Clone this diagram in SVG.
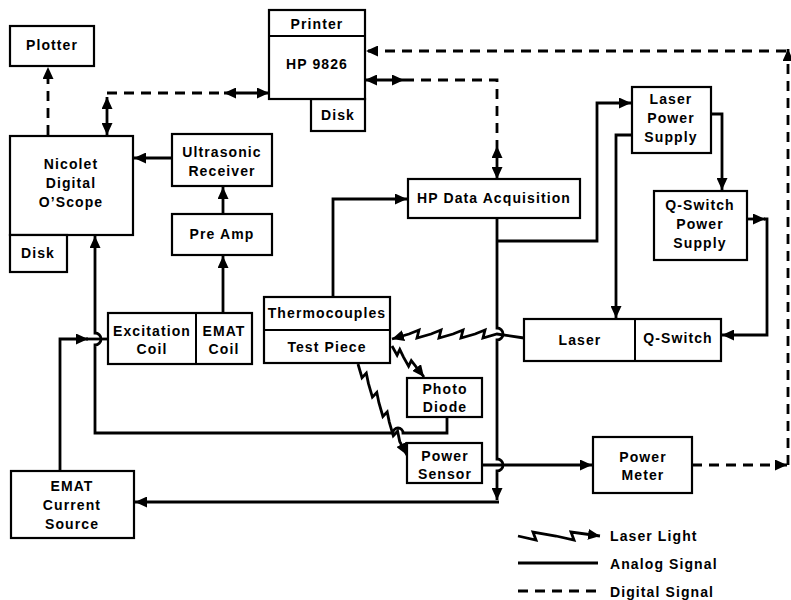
<svg xmlns="http://www.w3.org/2000/svg" width="791" height="600" viewBox="0 0 791 600">
<defs>
<style>
.box{fill:#fff;stroke:#000;stroke-width:2.2}
.div{stroke:#000;stroke-width:2}
.t{font-family:"Liberation Sans",Arial,Helvetica,sans-serif;font-weight:bold;font-size:14px;letter-spacing:1.1px;text-anchor:middle;fill:#000}
.tl{font-family:"Liberation Sans",Arial,Helvetica,sans-serif;font-weight:bold;font-size:14px;letter-spacing:1.1px;text-anchor:start;fill:#000}
.w{fill:none;stroke:#000;stroke-width:2.8;stroke-linejoin:miter}
.d{stroke-dasharray:10 7}
.a{marker-end:url(#ah)}
.aa{marker-start:url(#ah);marker-end:url(#ah)}
</style>
<marker id="ah" markerUnits="userSpaceOnUse" markerWidth="13" markerHeight="11" refX="12" refY="5.5" orient="auto-start-reverse" viewBox="0 0 13 11">
<path d="M0,0 L12,5.5 L0,11 z" fill="#000"/>
</marker>
</defs>
<rect width="791" height="600" fill="#fff"/>

<g id="connectors">
<!-- digital -->
<path class="w d a" d="M48,135 V67"/>
<path class="w d" d="M107,93 H224"/>
<path class="w aa" d="M107,97 V135"/>
<path class="w aa" d="M224,93 H269"/>
<path class="w aa" d="M365,80 H404"/>
<path class="w d" d="M404,80 H497 V146"/>
<path class="w aa" d="M497,146 V179"/>
<path class="w d a" d="M692,465 H787"/>
<path class="w d a" d="M788,465 V49"/>
<path class="w d a" d="M786,51 H366"/>
<!-- analog -->
<path class="w a" d="M172,158 H134"/>
<path class="w a" d="M223,213 V187"/>
<path class="w a" d="M223,312 V256"/>
<path class="w a" d="M60,471 V339 H88"/>
<path class="w" d="M86,339 H108"/>
<path class="w a" d="M447,418 V433 H403 A5,5 0 0 0 393,433 H95 V345 A6,6 0 0 0 95,333 V236"/>
<path class="w a" d="M333,297 V199 H407"/>
<path class="w a" d="M497,218 V328 A6,6 0 0 1 497,340 V459 A6,6 0 0 1 497,471 V500"/>
<path class="w a" d="M497,241 H597 V103 H631"/>
<path class="w a" d="M499,502 H135"/>
<path class="w a" d="M632,135 H616 V318"/>
<path class="w a" d="M711,114 H722 V190"/>
<path class="w a" d="M747,219 H765"/>
<path class="w a" d="M764,219 H767 V335 H722"/>
<path class="w a" d="M482,465 H592"/>
<!-- laser light -->
<path class="w a" d="M524,338 L497,334 L483,338 L485,330 L475,334 L461,338 L463,330 L453,334 L439,338 L441,330 L431,334 L417,338 L419,330 L409,334 L392,339"/>
<path class="w a" d="M392,346 L397.1,355.1 L399.8,349.4 L403.5,357.1 L408.6,366.2 L411.3,360.6 L424,377"/>
<path class="w a" d="M358,364 L362,377.7 L366.3,373.1 L368.4,383.4 L372.4,397.1 L376.8,392.5 L378.9,402.7 L382.9,416.5 L387.2,411.9 L389.3,422.1 L393.3,435.8 L397.6,431.2 L399.7,441.4 L407,455"/>
</g>

<g id="plotter"><rect class="box" x="10" y="26" width="84" height="40"/><text class="t" x="52" y="50">Plotter</text></g>
<g id="hp9826">
<rect class="box" x="311" y="99" width="54" height="32"/>
<rect class="box" x="269" y="10" width="96" height="89"/>
<line class="div" x1="269" y1="36" x2="365" y2="36"/>
<text class="t" x="317" y="29">Printer</text>
<text class="t" x="317" y="69">HP 9826</text>
<text class="t" x="338" y="120">Disk</text>
</g>
<g id="nicolet">
<rect class="box" x="10" y="136" width="123" height="99"/>
<rect class="box" x="10" y="235" width="57" height="37"/>
<text class="t" x="71" y="169">Nicolet</text>
<text class="t" x="71" y="188">Digital</text>
<text class="t" x="71" y="207">O’Scope</text>
<text class="t" x="38" y="258">Disk</text>
</g>
<g id="ultrasonic"><rect class="box" x="172" y="134" width="100" height="52"/><text class="t" x="222" y="157">Ultrasonic</text><text class="t" x="222" y="176">Receiver</text></g>
<g id="preamp"><rect class="box" x="172" y="214" width="100" height="41"/><text class="t" x="222" y="239">Pre Amp</text></g>
<g id="coils">
<rect class="box" x="108" y="313" width="144" height="51"/>
<line class="div" x1="196" y1="313" x2="196" y2="364"/>
<text class="t" x="152" y="336">Excitation</text><text class="t" x="152" y="354">Coil</text>
<text class="t" x="224" y="336">EMAT</text><text class="t" x="224" y="354">Coil</text>
</g>
<g id="testpiece">
<rect class="box" x="264" y="297" width="126" height="66"/>
<line class="div" x1="264" y1="330" x2="390" y2="330"/>
<text class="t" x="327" y="318">Thermocouples</text>
<text class="t" x="327" y="352">Test Piece</text>
</g>
<g id="hpdaq"><rect class="box" x="408" y="179" width="172" height="39"/><text class="t" x="494" y="203">HP Data Acquisition</text></g>
<g id="laserps"><rect class="box" x="632" y="87" width="79" height="66"/><text class="t" x="671" y="104">Laser</text><text class="t" x="671" y="123">Power</text><text class="t" x="671" y="142">Supply</text></g>
<g id="qswitchps"><rect class="box" x="654" y="191" width="93" height="69"/><text class="t" x="700" y="210">Q-Switch</text><text class="t" x="700" y="229">Power</text><text class="t" x="700" y="248">Supply</text></g>
<g id="laser">
<rect class="box" x="524" y="319" width="197" height="42"/>
<line class="div" x1="635" y1="319" x2="635" y2="361"/>
<text class="t" x="580" y="345">Laser</text>
<text class="t" x="678" y="343">Q-Switch</text>
</g>
<g id="photodiode"><rect class="box" x="407" y="378" width="75" height="39"/><text class="t" x="445" y="394">Photo</text><text class="t" x="445" y="412">Diode</text></g>
<g id="powersensor"><rect class="box" x="407" y="443" width="75" height="40"/><text class="t" x="445" y="461">Power</text><text class="t" x="445" y="479">Sensor</text></g>
<g id="powermeter"><rect class="box" x="593" y="437" width="99" height="56"/><text class="t" x="643" y="462">Power</text><text class="t" x="643" y="480">Meter</text></g>
<g id="ematsource"><rect class="box" x="11" y="471" width="123" height="67"/><text class="t" x="72" y="491">EMAT</text><text class="t" x="72" y="510">Current</text><text class="t" x="72" y="529">Source</text></g>

<g id="legend">
<path class="w a" d="M518,536 L536,540 L533,532 L556,536 L574,540 L571,532 L600,536"/>
<path class="w" d="M518,563 H598"/>
<path class="w d" d="M518,591 H598"/>
<text class="tl" x="610" y="541">Laser Light</text>
<text class="tl" x="610" y="569">Analog Signal</text>
<text class="tl" x="610" y="597">Digital Signal</text>
</g>
</svg>
